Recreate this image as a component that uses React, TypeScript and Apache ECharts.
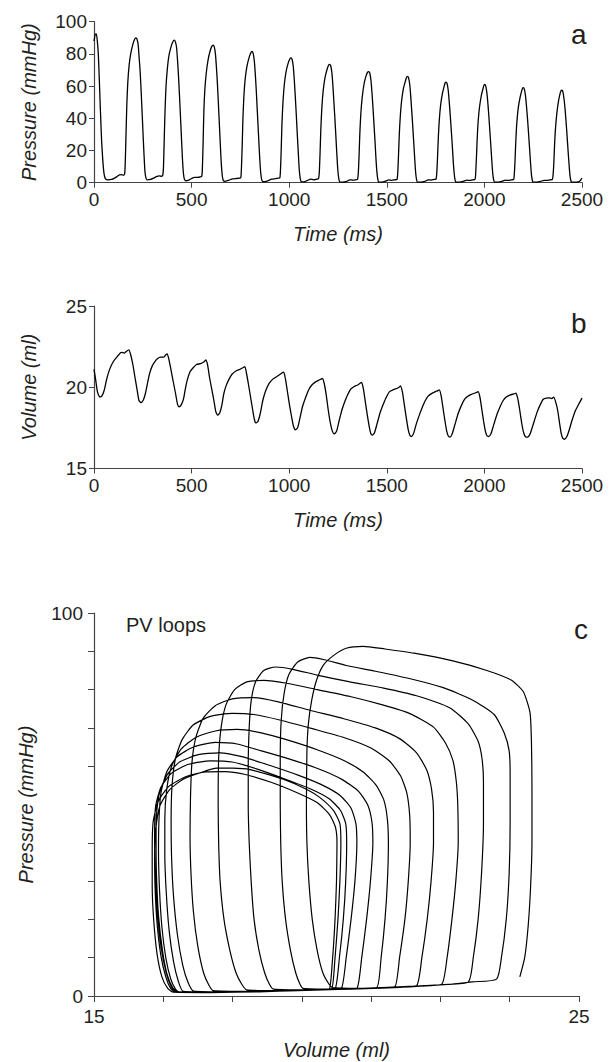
import React, { useEffect, useRef } from "react";
import * as echarts from "echarts";

// ---------- DATA ----------
// Panel a: left-ventricular pressure trace [time (ms), pressure (mmHg)]
const pressureTrace: [number, number][] = [
  [0, 88], [6, 92], [12, 92.5], [17, 88], [22, 80], [27, 65], [31, 51], [35, 38], [39, 26], [45, 14], [51, 6], [58, 2.5], [70, 1.8], [90, 2.0], [105, 2.8], [118, 3.8], [130, 4.8], [142, 5.0], [150, 4.6], [157, 5.5],
  [160, 12], [164, 30], [168, 48], [173, 62], [180, 73], [188, 80], [198, 85.5], [206, 88.5], [213, 90], [219, 89.5], [226, 86], [231, 78], [236, 70], [241, 58], [246, 45], [251, 31], [256, 18], [261, 7], [266, 3], [272, 1.8], [290, 2.0], [305, 2.8], [320, 3.8], [335, 4.2], [345, 4.0], [352, 4.5],
  [356, 10], [360, 28], [364, 45], [369, 60], [376, 71], [384, 79], [395, 84.5], [404, 87.5], [411, 88.5], [417, 87.5], [423, 84], [428, 76], [433, 66], [438, 54], [443, 41], [448, 28], [453, 15], [458, 6], [463, 2.2], [470, 1.2], [485, 1.6], [500, 2.6], [515, 3.3], [530, 3.3], [545, 3.6], [552, 4.0],
  [555, 8], [559, 25], [563, 45], [568, 58], [575, 68], [584, 76], [594, 81.5], [603, 84.5], [610, 85.5], [616, 84.5], [622, 80], [627, 72], [632, 62], [637, 50], [642, 37], [647, 24], [652, 12], [657, 4.5], [662, 1.5], [670, 0.8], [690, 1.5], [710, 2.4], [730, 2.6], [745, 2.8], [752, 3.2],
  [755, 8], [759, 22], [763, 40], [768, 54], [775, 65], [784, 72.5], [794, 77.5], [803, 80.5], [809, 81.5], [815, 80.5], [821, 76], [826, 68], [831, 58], [836, 46], [841, 34], [846, 22], [851, 11], [856, 4], [861, 1.2], [870, 0.6], [890, 1.2], [910, 2.2], [930, 2.5], [945, 2.8], [952, 3.0],
  [955, 7], [959, 20], [963, 37], [968, 50], [975, 61], [984, 69], [994, 74], [1003, 76.8], [1009, 77.5], [1015, 76.5], [1021, 72], [1026, 64], [1031, 54], [1036, 43], [1041, 31], [1046, 20], [1051, 9], [1056, 3], [1061, 0.8], [1075, 0.5], [1095, 1.5], [1110, 2.2], [1125, 1.8], [1140, 2.2], [1150, 2.5],
  [1154, 6], [1158, 18], [1162, 33], [1167, 46], [1174, 57], [1183, 65], [1193, 70], [1201, 72.8], [1207, 73.5], [1213, 72.5], [1219, 68], [1224, 60], [1229, 50], [1234, 40], [1239, 29], [1244, 18], [1249, 8], [1254, 2.5], [1259, 0.5], [1275, 0.3], [1295, 0.8], [1310, 1.8], [1325, 1.6], [1340, 1.8], [1350, 2.2],
  [1354, 6], [1358, 17], [1362, 31], [1367, 43], [1374, 53], [1383, 61], [1393, 66], [1401, 68.5], [1407, 69], [1413, 68], [1419, 63.5], [1424, 56], [1429, 47], [1434, 37], [1439, 27], [1444, 16], [1449, 7], [1454, 2], [1459, 0.4], [1475, 0.3], [1495, 1.0], [1510, 1.8], [1525, 1.5], [1540, 1.8], [1552, 2.0],
  [1556, 6], [1560, 17], [1564, 30], [1569, 41], [1576, 51], [1585, 58.5], [1595, 63], [1601, 65.3], [1606, 66], [1612, 65], [1618, 60.5], [1623, 53], [1628, 44], [1633, 35], [1638, 25], [1643, 15], [1648, 6], [1653, 1.6], [1658, 0.3], [1675, 0.3], [1695, 0.8], [1712, 1.8], [1728, 1.6], [1742, 2.0], [1752, 2.2],
  [1756, 6], [1760, 16], [1764, 28], [1769, 39], [1776, 48.5], [1785, 55.5], [1794, 60], [1799, 62], [1803, 62.5], [1809, 61.5], [1815, 57], [1820, 50], [1825, 42], [1830, 33], [1835, 24], [1840, 14], [1845, 6], [1850, 1.5], [1855, 0.3], [1872, 0.3], [1892, 0.8], [1910, 1.6], [1925, 1.4], [1940, 1.8], [1952, 2.0],
  [1955, 5], [1959, 15], [1963, 27], [1968, 38], [1975, 47], [1984, 54], [1993, 58.5], [1997, 60.3], [2001, 61], [2007, 60], [2013, 55.5], [2018, 49], [2023, 41], [2028, 32], [2033, 23], [2038, 13.5], [2043, 5.5], [2048, 1.4], [2053, 0.3], [2070, 0.3], [2090, 0.8], [2108, 1.6], [2122, 1.4], [2138, 1.8], [2150, 2.0],
  [2153, 5], [2157, 14], [2161, 26], [2166, 37], [2173, 46], [2182, 52.5], [2191, 57], [2195, 58.5], [2199, 59], [2205, 58], [2211, 53.5], [2216, 47], [2221, 39.5], [2226, 31], [2231, 22], [2236, 13], [2241, 5], [2246, 1.2], [2251, 0.3], [2268, 0.3], [2288, 0.8], [2305, 1.5], [2320, 1.4], [2336, 1.8], [2348, 2.0],
  [2352, 5], [2356, 13], [2360, 25], [2365, 35], [2372, 44], [2380, 51], [2388, 55.5], [2392, 57], [2396, 57.5], [2402, 56.5], [2408, 52], [2413, 46], [2418, 38.5], [2423, 30], [2428, 21], [2433, 12.5], [2438, 5], [2443, 1.2], [2448, 0.3], [2465, 0.3], [2480, 0.5], [2490, 1.2], [2495, 2.0], [2500, 2.8],
];

// Panel b: left-ventricular volume trace [time (ms), volume (ml)]
const volumeTrace: [number, number][] = [
  [0, 21.1], [8, 20.5], [18, 19.7], [30, 19.4], [40, 19.45], [52, 19.8], [65, 20.5], [80, 21.1], [100, 21.6], [120, 21.9], [140, 22.15], [155, 22.1], [165, 22.2], [178, 22.3], [188, 22.0], [199, 21.4], [210, 20.6], [220, 19.9], [230, 19.2], [240, 19.05], [252, 19.2], [263, 19.6], [275, 20.3], [285, 20.85], [298, 21.3], [310, 21.55], [325, 21.75], [340, 21.85], [358, 21.85], [368, 22.0], [375, 22.05],
  [384, 21.7], [394, 21.1], [405, 20.4], [418, 19.6], [428, 18.95], [436, 18.8], [446, 18.9], [458, 19.25], [468, 19.9], [478, 20.45], [492, 20.95], [508, 21.2], [525, 21.4], [545, 21.45], [562, 21.55], [574, 21.68],
  [583, 21.3], [592, 20.6], [603, 19.9], [614, 19.2], [624, 18.5], [634, 18.28], [645, 18.45], [655, 18.9], [665, 19.6], [677, 20.1], [692, 20.5], [707, 20.8], [727, 21.0], [747, 21.1], [762, 21.2], [773, 21.27],
  [782, 20.8], [791, 20.2], [802, 19.4], [813, 18.6], [822, 18.0], [830, 17.8], [840, 17.9], [852, 18.4], [865, 19.2], [880, 19.8], [898, 20.25], [916, 20.5], [935, 20.65], [952, 20.78], [965, 20.9], [972, 20.93],
  [981, 20.5], [990, 19.8], [1001, 18.95], [1012, 18.2], [1022, 17.6], [1032, 17.38], [1043, 17.5], [1055, 18.1], [1068, 18.8], [1086, 19.43], [1100, 19.85], [1116, 20.14], [1132, 20.3], [1150, 20.42], [1163, 20.5], [1171, 20.55],
  [1180, 20.2], [1190, 19.5], [1200, 18.6], [1211, 17.79], [1221, 17.3], [1231, 17.13], [1243, 17.3], [1255, 17.9], [1270, 18.6], [1285, 19.12], [1300, 19.55], [1315, 19.88], [1333, 20.05], [1351, 20.14], [1363, 20.25], [1371, 20.3],
  [1380, 19.9], [1390, 19.1], [1400, 18.3], [1410, 17.58], [1418, 17.15], [1426, 17.05], [1437, 17.2], [1450, 17.75], [1466, 18.45], [1484, 19.02], [1500, 19.45], [1514, 19.73], [1534, 19.85], [1554, 19.94], [1563, 20.0], [1570, 20.08],
  [1580, 19.7], [1590, 18.9], [1600, 18.1], [1610, 17.38], [1618, 17.05], [1626, 16.97], [1637, 17.15], [1650, 17.7], [1667, 18.3], [1683, 18.8], [1698, 19.2], [1713, 19.47], [1731, 19.62], [1749, 19.73], [1760, 19.78], [1769, 19.84],
  [1778, 19.5], [1787, 18.8], [1797, 18.0], [1807, 17.3], [1815, 17.0], [1823, 16.93], [1834, 17.1], [1849, 17.7], [1866, 18.4], [1883, 18.9], [1898, 19.25], [1913, 19.43], [1930, 19.55], [1948, 19.63], [1960, 19.68], [1968, 19.73],
  [1977, 19.4], [1986, 18.7], [1996, 17.9], [2006, 17.25], [2014, 17.0], [2022, 16.97], [2034, 17.15], [2048, 17.7], [2065, 18.35], [2082, 18.85], [2097, 19.2], [2112, 19.4], [2130, 19.52], [2148, 19.58], [2155, 19.6], [2161, 19.63],
  [2171, 19.3], [2181, 18.6], [2191, 17.8], [2201, 17.2], [2211, 16.95], [2221, 16.93], [2233, 17.1], [2247, 17.6], [2260, 18.1], [2271, 18.5], [2285, 18.9], [2301, 19.26], [2316, 19.33], [2331, 19.35], [2345, 19.3], [2355, 19.39],
  [2365, 19.1], [2375, 18.6], [2385, 17.8], [2394, 17.13], [2402, 16.85], [2410, 16.8], [2422, 16.95], [2434, 17.35], [2450, 18.0], [2466, 18.55], [2483, 18.95], [2500, 19.33],
];

// Panel c: pressure-volume loops [volume (ml), pressure (mmHg)], one array per beat
const pvLoop1: [number, number][] = [[23.78, 5.0], [23.88, 10], [23.95, 18], [24.0, 28], [24.03, 40], [24.03, 55], [24.02, 66], [23.99, 74], [23.85, 79.5], [23.6, 82.5], [23.1, 85], [22.4, 87.5], [21.6, 89.5], [21.0, 90.6], [20.55, 91.3], [20.2, 90.8], [19.95, 89], [19.73, 86.4], [19.59, 82.5], [19.49, 77.3], [19.42, 71], [19.39, 64], [19.38, 50], [19.39, 40], [19.43, 30], [19.5, 20], [19.6, 12], [19.72, 6], [19.85, 3], [19.92, 2.2], [20.6, 2.0], [21.5, 2.4], [22.3, 3.0], [22.8, 3.7], [23.3, 4.4]];
const pvLoop2: [number, number][] = [[23.4, 10], [23.5, 20], [23.56, 32], [23.58, 45], [23.58, 58], [23.56, 64], [23.46, 68.6], [23.25, 73.5], [22.8, 77.3], [22.2, 80.5], [21.5, 82.9], [20.8, 84.8], [20.2, 86.3], [19.75, 87.8], [19.45, 88.4], [19.2, 87.2], [19.02, 84], [18.92, 79], [18.86, 72], [18.84, 62], [18.84, 50], [18.85, 40], [18.88, 30], [18.95, 20], [19.05, 12], [19.16, 6], [19.25, 3], [19.31, 2.0], [19.9, 1.8], [20.6, 2.0], [21.5, 2.5], [22.2, 3.0], [22.72, 3.7]];
const pvLoop3: [number, number][] = [[22.82, 10], [22.92, 20], [22.99, 32], [23.03, 45], [23.03, 56], [23.0, 62], [22.92, 66.5], [22.72, 71], [22.34, 75.2], [21.65, 78.4], [20.97, 80.4], [20.28, 82], [19.6, 83.8], [19.1, 85.3], [18.75, 85.9], [18.5, 85], [18.33, 82], [18.24, 77], [18.2, 70], [18.18, 60], [18.18, 50], [18.2, 40], [18.24, 30], [18.3, 20], [18.4, 12], [18.52, 6], [18.62, 3], [18.7, 1.8], [19.4, 1.6], [20.3, 1.8], [21.2, 2.2], [21.8, 2.7], [22.17, 3.1]];
const pvLoop4: [number, number][] = [[22.28, 10], [22.38, 20], [22.46, 30], [22.51, 40], [22.5, 50], [22.47, 56], [22.4, 61.5], [22.25, 66], [22.0, 70.2], [21.5, 73.8], [20.95, 76], [20.28, 78.2], [19.6, 80], [19.0, 81.6], [18.5, 82.4], [18.15, 82], [17.9, 80], [17.72, 76], [17.62, 70], [17.57, 62], [17.56, 50], [17.57, 40], [17.6, 30], [17.68, 20], [17.8, 12], [17.93, 6], [18.05, 3], [18.15, 1.6], [18.8, 1.4], [19.7, 1.6], [20.6, 2.0], [21.3, 2.4], [21.65, 2.7]];
const pvLoop5: [number, number][] = [[21.76, 10], [21.87, 20], [21.95, 30], [22.0, 40], [22.0, 48], [21.96, 54], [21.86, 59], [21.65, 63.5], [21.3, 67.2], [20.8, 70], [20.15, 72.4], [19.45, 74.6], [18.8, 76.8], [18.3, 77.9], [17.85, 77.6], [17.5, 75.8], [17.25, 72.5], [17.1, 67.5], [17.02, 61], [16.99, 52], [16.98, 42], [17.0, 32], [17.05, 22], [17.14, 13], [17.26, 6], [17.37, 2.8], [17.46, 1.4], [18.2, 1.2], [19.2, 1.4], [20.2, 1.8], [20.9, 2.2], [21.2, 2.4]];
const pvLoop6: [number, number][] = [[21.3, 10], [21.41, 20], [21.48, 30], [21.52, 40], [21.51, 47], [21.45, 53], [21.32, 57.5], [21.08, 61.5], [20.7, 64.8], [20.15, 67.5], [19.5, 69.8], [18.85, 72], [18.3, 73.5], [17.85, 73.8], [17.4, 73], [17.05, 70.8], [16.82, 67], [16.68, 62], [16.61, 55], [16.59, 46], [16.6, 36], [16.64, 26], [16.72, 16], [16.83, 8], [16.94, 3.5], [17.05, 1.3], [17.8, 1.1], [18.8, 1.3], [19.8, 1.7], [20.5, 2.0], [20.83, 2.2]];
const pvLoop7: [number, number][] = [[20.92, 10], [21.0, 20], [21.05, 30], [21.07, 40], [21.05, 46], [20.98, 51], [20.82, 55], [20.55, 58.5], [20.15, 61.5], [19.6, 64.3], [19.0, 66.8], [18.45, 68.7], [17.95, 69.6], [17.5, 69.2], [17.1, 67.5], [16.8, 64.5], [16.6, 60], [16.5, 54], [16.46, 46], [16.46, 37], [16.49, 27], [16.55, 17], [16.64, 9], [16.74, 3.8], [16.84, 1.2], [17.6, 1.0], [18.6, 1.2], [19.6, 1.6], [20.2, 1.8], [20.42, 2.0]];
const pvLoop8: [number, number][] = [[20.52, 10], [20.62, 20], [20.7, 30], [20.75, 40], [20.73, 45.5], [20.64, 50], [20.45, 53.5], [20.12, 56.5], [19.65, 59.2], [19.05, 61.8], [18.45, 64], [17.95, 65.8], [17.5, 66.2], [17.05, 65], [16.72, 62.5], [16.5, 58.5], [16.38, 53], [16.34, 46], [16.33, 38], [16.35, 28], [16.4, 18], [16.48, 10], [16.58, 4.5], [16.68, 1.8], [16.75, 1.1], [17.5, 1.0], [18.5, 1.2], [19.4, 1.5], [19.9, 1.8], [20.1, 2.0]];
const pvLoop9: [number, number][] = [[20.2, 10], [20.3, 20], [20.38, 30], [20.42, 40], [20.4, 45], [20.3, 49], [20.08, 52.3], [19.72, 55], [19.22, 57.6], [18.6, 60.3], [18.05, 62.5], [17.6, 63.5], [17.15, 63], [16.78, 61.2], [16.52, 58], [16.36, 53.5], [16.29, 47.5], [16.28, 40], [16.29, 31], [16.33, 21], [16.41, 12], [16.51, 5.5], [16.62, 2.2], [16.72, 1.1], [17.5, 1.0], [18.5, 1.2], [19.3, 1.5], [19.8, 1.8], [19.97, 1.9]];
const pvLoop10: [number, number][] = [[20.06, 10], [20.14, 20], [20.19, 30], [20.21, 40], [20.19, 45], [20.08, 48.5], [19.85, 51.5], [19.48, 54], [18.95, 56.6], [18.35, 59.3], [17.85, 61.1], [17.4, 61.4], [16.95, 60.5], [16.6, 58.2], [16.38, 54.5], [16.27, 49.5], [16.25, 42], [16.26, 33], [16.3, 23], [16.38, 13], [16.49, 6], [16.6, 2.3], [16.7, 1.1], [17.5, 1.0], [18.5, 1.2], [19.3, 1.5], [19.75, 1.7], [19.9, 1.8]];
const pvLoop11: [number, number][] = [[19.97, 10], [20.03, 20], [20.07, 30], [20.09, 40], [20.07, 45], [19.94, 48.4], [19.66, 51.8], [19.38, 54], [18.9, 56.6], [18.22, 59.1], [17.87, 59.5], [17.53, 59.5], [17.19, 58.3], [16.84, 56.6], [16.57, 54], [16.36, 49.7], [16.27, 43], [16.25, 36], [16.26, 28], [16.3, 19], [16.38, 10.5], [16.48, 5], [16.58, 2], [16.68, 1.1], [17.5, 1.0], [18.5, 1.2], [19.3, 1.5], [19.7, 1.7], [19.85, 1.8]];
const pvLoop12: [number, number][] = [[19.92, 10], [19.97, 20], [20.0, 30], [20.01, 40], [19.98, 44], [19.86, 47.3], [19.6, 50.5], [19.2, 53], [18.65, 55.8], [18.1, 57.9], [17.7, 58.6], [17.3, 58.5], [16.9, 57.3], [16.55, 54.8], [16.33, 51], [16.22, 45.5], [16.2, 38], [16.2, 29], [16.23, 20], [16.3, 11], [16.4, 5], [16.52, 2], [16.64, 1.0], [17.4, 0.9], [18.4, 1.1], [19.2, 1.4], [19.7, 1.7], [19.95, 2.0]];

const pvLoops = [pvLoop1, pvLoop2, pvLoop3, pvLoop4, pvLoop5, pvLoop6, pvLoop7, pvLoop8, pvLoop9, pvLoop10, pvLoop11, pvLoop12];

// Tick label values
const timeTicks = { min: 0, max: 2500, step: 500 };
const pressureTicksA = { min: 0, max: 100, step: 20 };
const volumeTicksB = { min: 15, max: 25, step: 5 };
const pvVolumeLabels = [15, 25];
const pvPressureLabels = [0, 100];

// ---------- STYLE ----------
const FONT = "'Liberation Sans', Arial, Helvetica, sans-serif";
const TEXT = "#231f20";
const AXIS = "#444";

function baseAxis(extra: any) {
  return {
    type: "value",
    axisLine: { show: true, onZero: false, lineStyle: { color: AXIS, width: 1.2 } },
    axisTick: { show: true, length: 5, lineStyle: { color: AXIS, width: 1 } },
    splitLine: { show: false },
    axisLabel: { color: TEXT, fontSize: 19, fontFamily: FONT, margin: 7, formatter: (v: number) => String(v) },
    nameTextStyle: { color: TEXT, fontSize: 20, fontFamily: FONT, fontStyle: "italic" },
    nameLocation: "middle",
    ...extra,
  };
}

export default function App() {
  const ref = useRef<HTMLDivElement>(null);
  useEffect(() => {
    if (!ref.current) return;
    const chart = echarts.init(ref.current, null, { renderer: "svg" });
    const pvTrace: [number, number][] = ([] as [number, number][]).concat(...pvLoops);
    const pvTickValues = Array.from({ length: 8 }, (_, i) => 15 + (i * 10) / 7);
    const option: any = {
      animation: false,
      backgroundColor: "#fff",
      grid: [
        { left: 94, top: 21.7, width: 488, height: 161 },
        { left: 94, top: 306, width: 488, height: 162.5 },
        { left: 94, top: 613, width: 485, height: 383 },
      ],
      xAxis: [
        baseAxis({ gridIndex: 0, min: timeTicks.min, max: timeTicks.max, interval: timeTicks.step, name: "Time (ms)", nameGap: 41 }),
        baseAxis({ gridIndex: 1, min: timeTicks.min, max: timeTicks.max, interval: timeTicks.step, name: "Time (ms)", nameGap: 41 }),
        baseAxis({
          gridIndex: 2, min: 15, max: 25, name: "Volume (ml)", nameGap: 44,
          axisTick: { show: true, length: 6, customValues: pvTickValues, lineStyle: { color: AXIS, width: 1 } },
          axisLabel: { color: TEXT, fontSize: 19, fontFamily: FONT, margin: 11, customValues: pvVolumeLabels, formatter: (v: number) => String(v) },
        }),
      ],
      yAxis: [
        baseAxis({ gridIndex: 0, min: pressureTicksA.min, max: pressureTicksA.max, interval: pressureTicksA.step, name: "Pressure (mmHg)", nameGap: 55, nameRotate: 90 }),
        baseAxis({ gridIndex: 1, min: volumeTicksB.min, max: volumeTicksB.max, interval: volumeTicksB.step, name: "Volume (ml)", nameGap: 55, nameRotate: 90 }),
        baseAxis({
          gridIndex: 2, min: 0, max: 100, interval: 10, name: "Pressure (mmHg)", nameGap: 58, nameRotate: 90,
          axisTick: { show: true, length: 6, lineStyle: { color: AXIS, width: 1 } },
          axisLabel: {
            color: TEXT, fontSize: 19, fontFamily: FONT, margin: 11,
            formatter: (v: number) => (pvPressureLabels.includes(v) ? String(v) : ""),
          },
        }),
      ],
      series: [
        {
          type: "line", xAxisIndex: 0, yAxisIndex: 0, data: pressureTrace, showSymbol: false, symbol: "none",
          smooth: 0.2, lineStyle: { color: "#000", width: 1.3 }, silent: true,
        },
        {
          type: "line", xAxisIndex: 1, yAxisIndex: 1, data: volumeTrace, showSymbol: false, symbol: "none",
          smooth: 0.2, lineStyle: { color: "#000", width: 1.3 }, silent: true,
        },
        {
          type: "line", xAxisIndex: 2, yAxisIndex: 2, data: pvTrace, showSymbol: false, symbol: "none",
          smooth: 0.2, lineStyle: { color: "#000", width: 1.2 }, silent: true,
        },
      ],
      graphic: [
        { type: "text", left: 571, top: 20, style: { text: "a", fontSize: 28, fontFamily: FONT, fill: TEXT } },
        { type: "text", left: 571, top: 309, style: { text: "b", fontSize: 28, fontFamily: FONT, fill: TEXT } },
        { type: "text", left: 574, top: 615, style: { text: "c", fontSize: 28, fontFamily: FONT, fill: TEXT } },
        { type: "text", left: 126, top: 615, style: { text: "PV loops", fontSize: 20, fontFamily: FONT, fill: TEXT } },
      ],
    };
    chart.setOption(option);
    return () => chart.dispose();
  }, []);
  return (
    <div
      ref={ref}
      style={{ position: "absolute", left: 0, top: 0, width: 611, height: 1062, background: "#fff" }}
    />
  );
}
